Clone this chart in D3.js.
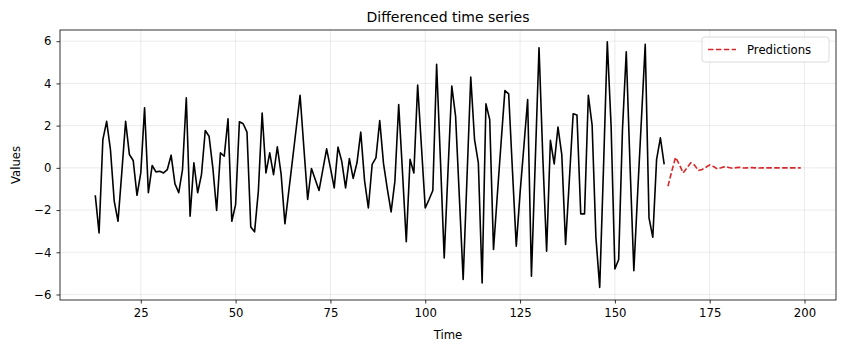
<!DOCTYPE html>
<html>
<head>
<meta charset="utf-8">
<script src="https://cdn.jsdelivr.net/npm/d3@7"></script>
<style>
  body { margin: 0; background: #fff; }
  svg text { font-family: "DejaVu Sans", sans-serif; fill: #000; }
</style>
</head>
<body>
<div id="chart"></div>
<script>
// observed differenced series, t = 13 .. 163
var start_actual = 13;
var actual_values = [
  -1.3, -3.08, 1.34, 2.2, 0.87, -1.58, -2.53, -0.2, 2.2, 0.63,
  0.35, -1.3, -0.24, 2.84, -1.18, 0.11, -0.19, -0.16, -0.24, -0.08,
  0.6, -0.75, -1.18, -0.08, 3.32, -2.29, 0.24, -1.18, -0.32, 1.77,
  1.5, 0.0, -2.02, 0.71, 0.55, 2.32, -2.53, -1.74, 2.18, 2.09,
  1.69, -2.8, -3.03, -1.1, 2.6, -0.24, 0.71, -0.32, 1.0, -0.3,
  -2.65, -1.14, 0.38, 1.9, 3.44, 0.95, -1.5, -0.03, -0.55, -1.07,
  -0.08, 0.9, 0.0, -0.95, 0.98, 0.3, -0.95, 0.44, -0.5, 0.24,
  1.69, -0.6, -1.9, 0.16, 0.47, 2.24, 0.2, -1.0, -2.09, -0.63,
  3.0, -0.2, -3.5, 0.4, -0.24, 3.92, 1.0, -1.9, -1.5, -1.07,
  4.9, 0.4, -4.27, -0.15, 3.87, 2.45, -1.4, -5.29, -0.5, 4.3,
  1.34, 0.24, -5.45, 3.03, 2.29, -3.87, -1.3, 1.2, 3.66, 3.5,
  -0.15, -3.71, -1.2, 1.0, 3.24, -5.13, 0.28, 5.69, 0.5, -3.95,
  1.3, 0.19, 1.93, 0.63, -3.63, -0.55, 2.56, 2.5, -2.18, -2.18,
  3.44, 2.02, -3.3, -5.66, 0.0, 5.97, 2.0, -4.79, -4.34, 1.8,
  5.5, 0.1, -4.87, -1.2, 2.3, 5.85, -2.37, -3.29, 0.4, 1.42,
  0.16
];
// forecast, t = 164 .. 199
var start_pred = 164;
var pred_values = [
  -0.87, -0.16, 0.5, 0.16, -0.24, 0.0, 0.24, 0.13, -0.13, -0.08,
  0.03, 0.14, 0.06, -0.05, -0.0, 0.06, 0.02, -0.02, 0.01, 0.02,
  -0.01, 0.0, 0.01, 0.0, -0.01, 0.0, 0.0, 0.0, 0.0, 0.0,
  0.0, 0.0, 0.0, 0.0, 0.0, 0.0
];
var x_ticks = [25, 50, 75, 100, 125, 150, 175, 200];
var y_ticks = [-6, -4, -2, 0, 2, 4, 6];

var width_chart  = 844;
var height_chart = 353;
var margin_chart = {top: 30, right: 8, bottom: 53, left: 60};
var inner_w = width_chart - margin_chart.left - margin_chart.right;
var inner_h = height_chart - margin_chart.top - margin_chart.bottom;

var actual_data = actual_values.map(function (v, i) { return {t: start_actual + i, v: v}; });
var pred_data   = pred_values.map(function (v, i) { return {t: start_pred + i, v: v}; });

var x_chart = d3.scaleLinear().domain([3.7, 208.3]).range([0, inner_w]);
var y_chart = d3.scaleLinear().domain([-6.26, 6.53]).range([inner_h, 0]);

var svg_chart = d3.select("#chart").append("svg")
  .attr("width", width_chart)
  .attr("height", height_chart);

var g_chart = svg_chart.append("g")
  .attr("transform", "translate(" + margin_chart.left + "," + margin_chart.top + ")");

// grid
g_chart.append("g").selectAll("line").data(x_ticks).enter().append("line")
  .attr("x1", function (d) { return x_chart(d); })
  .attr("x2", function (d) { return x_chart(d); })
  .attr("y1", 0).attr("y2", inner_h)
  .attr("stroke", "#b0b0b0").attr("stroke-opacity", 0.3).attr("stroke-width", 0.8);
g_chart.append("g").selectAll("line").data(y_ticks).enter().append("line")
  .attr("y1", function (d) { return y_chart(d); })
  .attr("y2", function (d) { return y_chart(d); })
  .attr("x1", 0).attr("x2", inner_w)
  .attr("stroke", "#b0b0b0").attr("stroke-opacity", 0.3).attr("stroke-width", 0.8);

var fmt_minus = function (d) { return String(d).replace("-", "\u2212"); };

var x_axis = g_chart.append("g")
  .attr("transform", "translate(0," + inner_h + ")")
  .call(d3.axisBottom(x_chart).tickValues(x_ticks).tickSize(3.5).tickPadding(5).tickFormat(fmt_minus));
var y_axis = g_chart.append("g")
  .call(d3.axisLeft(y_chart).tickValues(y_ticks).tickSize(3.5).tickPadding(5).tickFormat(fmt_minus));
[x_axis, y_axis].forEach(function (a) {
  a.select(".domain").remove();
  a.selectAll("text").attr("font-size", "11.7px").attr("font-family", "DejaVu Sans, sans-serif");
  a.selectAll("line").attr("stroke", "#000").attr("stroke-width", 0.8);
});

var line_chart = d3.line()
  .x(function (d) { return x_chart(d.t); })
  .y(function (d) { return y_chart(d.v); });

g_chart.append("path")
  .datum(actual_data)
  .attr("d", line_chart)
  .attr("fill", "none")
  .attr("stroke", "#000")
  .attr("stroke-width", 1.6)
  .attr("stroke-linejoin", "round");

g_chart.append("path")
  .datum(pred_data)
  .attr("d", line_chart)
  .attr("fill", "none")
  .attr("stroke", "#d62728")
  .attr("stroke-width", 1.6)
  .attr("stroke-dasharray", "5.5,2.4");

// frame
g_chart.append("rect")
  .attr("width", inner_w).attr("height", inner_h)
  .attr("fill", "none").attr("stroke", "#000").attr("stroke-width", 0.8);

// title & labels
svg_chart.append("text")
  .attr("x", margin_chart.left + inner_w / 2).attr("y", 22)
  .attr("text-anchor", "middle").attr("font-size", "14px")
  .text("Differenced time series");
svg_chart.append("text")
  .attr("x", margin_chart.left + inner_w / 2).attr("y", 339)
  .attr("text-anchor", "middle").attr("font-size", "11.7px")
  .text("Time");
svg_chart.append("text")
  .attr("transform", "translate(20," + (margin_chart.top + inner_h / 2) + ") rotate(-90)")
  .attr("text-anchor", "middle").attr("font-size", "11.7px")
  .text("Values");

// legend
var legend_g = g_chart.append("g")
  .attr("transform", "translate(" + (inner_w - 134) + ",7)");
legend_g.append("rect")
  .attr("width", 127).attr("height", 25).attr("rx", 2.5)
  .attr("fill", "#fff").attr("fill-opacity", 0.8)
  .attr("stroke", "#d0d0d0").attr("stroke-width", 0.8);
legend_g.append("line")
  .attr("x1", 6).attr("x2", 34).attr("y1", 12.5).attr("y2", 12.5)
  .attr("stroke", "#d62728").attr("stroke-width", 1.6).attr("stroke-dasharray", "5.5,2.4");
legend_g.append("text")
  .attr("x", 45).attr("y", 17)
  .attr("font-size", "11.7px")
  .text("Predictions");
</script>
</body>
</html>
